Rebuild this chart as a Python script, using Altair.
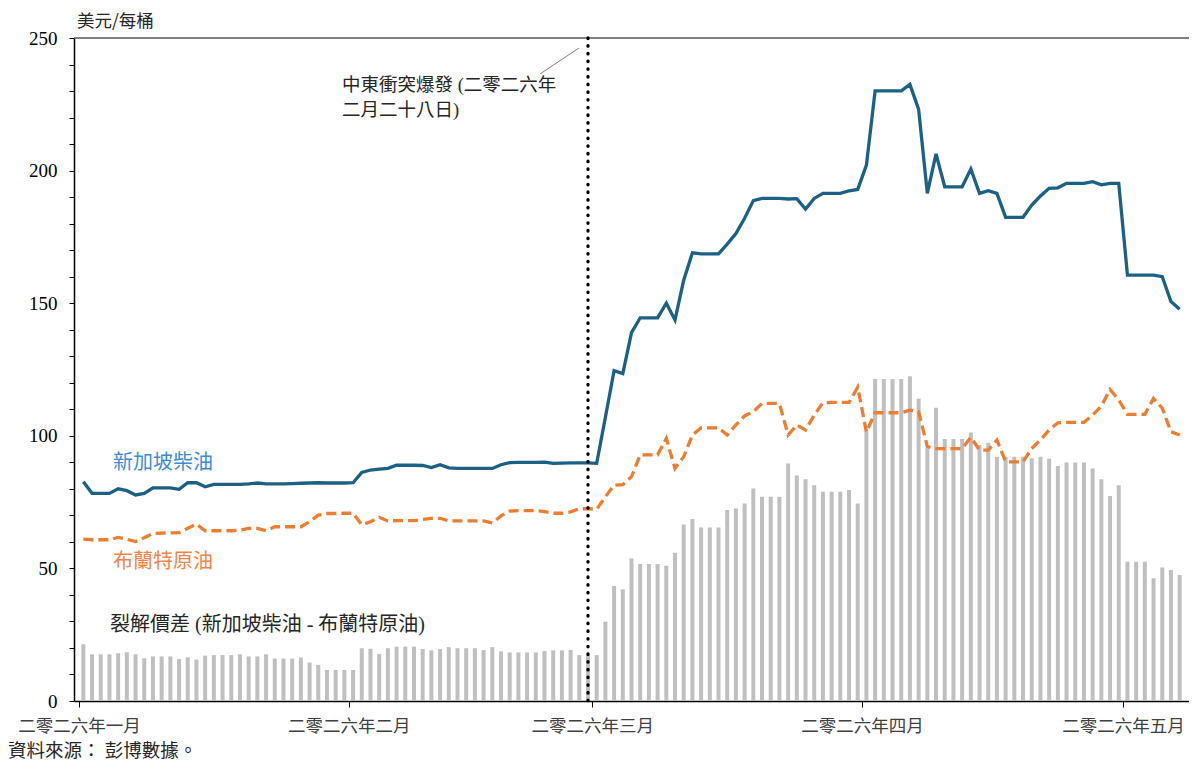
import altair as alt
import pandas as pd

# ---------------- data ----------------
dates = pd.date_range("2026-01-01 12:00", periods=127, freq="D")

diesel = [
    82.7, 78.3, 78.3, 78.3, 80.0, 79.3, 77.7, 78.3, 80.4, 80.4,
    80.4, 79.8, 82.3, 82.3, 80.8, 81.7, 81.7, 81.7, 81.7, 81.9,
    82.2, 81.9, 81.9, 81.9, 82.0, 82.1, 82.2, 82.3, 82.2, 82.2,
    82.2, 82.3, 86.2, 87.1, 87.4, 87.7, 88.9, 88.9, 88.9, 88.8,
    88.0, 89.1, 87.9, 87.7, 87.7, 87.7, 87.7, 87.7, 89.1, 89.9,
    90.0, 90.0, 90.0, 90.1, 89.6, 89.7, 89.8, 89.8, 89.8, 89.6,
    107.0, 124.6, 123.5, 138.9, 144.5, 144.5, 144.5, 150.0, 143.7, 158.7,
    169.0, 168.6, 168.6, 168.6, 172.3, 176.3, 182.0, 188.7, 189.5, 189.5,
    189.5, 189.3, 189.4, 185.5, 189.5, 191.4, 191.4, 191.4, 192.4, 192.9,
    202.1, 230.1, 230.1, 230.1, 230.1, 232.5, 223.1, 191.4, 206.3, 193.9,
    193.9, 193.9, 200.6, 191.4, 192.4, 191.4, 182.4, 182.4, 182.4, 187.0,
    190.4, 193.3, 193.5, 195.2, 195.2, 195.2, 195.8, 194.6, 195.2, 195.2,
    160.6, 160.6, 160.6, 160.6, 160.0, 150.6, 147.7,
]

brent = [
    61.0, 60.8, 60.8, 60.8, 61.7, 61.0, 60.1, 61.6, 63.2, 63.3,
    63.4, 63.5, 65.1, 66.7, 64.2, 64.2, 64.2, 64.2, 64.4, 65.1,
    65.1, 64.2, 65.7, 65.7, 65.7, 65.7, 67.6, 70.1, 70.7, 70.7,
    70.8, 70.8, 66.4, 67.6, 69.3, 67.9, 68.0, 68.0, 68.0, 68.5,
    68.9, 68.9, 67.9, 67.9, 67.9, 67.9, 67.9, 67.2, 69.8, 71.6,
    71.8, 71.8, 71.8, 71.4, 70.8, 70.8, 71.3, 72.5, 72.5, 72.3,
    77.0, 81.4, 81.6, 84.6, 92.8, 92.8, 92.8, 99.0, 87.7, 92.1,
    100.3, 103.0, 103.0, 103.0, 100.3, 104.1, 107.5, 109.1, 112.2, 112.2,
    112.2, 100.3, 104.1, 102.2, 107.8, 112.5, 112.6, 112.6, 112.6, 118.3,
    101.4, 108.7, 108.7, 108.7, 108.7, 109.7, 109.1, 95.9, 95.2, 95.2,
    95.2, 95.2, 99.4, 94.6, 94.6, 98.4, 90.2, 90.2, 90.2, 95.2,
    98.4, 102.2, 104.9, 105.1, 105.1, 105.1, 107.8, 111.2, 117.5, 113.5,
    108.1, 108.1, 108.1, 114.1, 110.4, 101.5, 100.3,
]

spread = [
    21.4, 17.6, 17.6, 17.6, 18.0, 18.4, 17.6, 16.1, 16.8, 16.8,
    16.8, 15.8, 16.5, 15.6, 17.1, 17.3, 17.3, 17.3, 17.6, 16.8,
    16.8, 17.6, 16.0, 16.0, 16.0, 16.4, 14.5, 13.6, 11.7, 11.7,
    11.7, 11.7, 19.9, 19.7, 17.7, 19.9, 20.5, 20.5, 20.5, 19.6,
    19.1, 19.6, 20.3, 19.9, 19.9, 19.9, 19.2, 20.3, 18.7, 18.3,
    18.3, 18.3, 18.3, 18.8, 19.1, 19.1, 19.2, 17.3, 17.3, 17.3,
    29.9, 43.4, 42.1, 53.7, 51.7, 51.7, 51.7, 51.0, 55.9, 66.6,
    68.6, 65.4, 65.4, 65.4, 72.0, 72.6, 74.5, 80.1, 77.0, 77.0,
    77.0, 89.6, 85.0, 83.6, 81.4, 78.9, 78.9, 78.9, 79.6, 74.5,
    101.6, 121.4, 121.4, 121.4, 121.4, 122.5, 114.0, 95.3, 110.6, 98.8,
    98.8, 98.8, 101.2, 96.5, 97.4, 92.1, 92.1, 92.1, 92.1, 91.5,
    92.1, 91.3, 88.6, 89.9, 89.9, 89.9, 87.7, 83.6, 77.3, 81.4,
    52.5, 52.5, 52.5, 46.3, 50.3, 49.4, 47.5,
]

month_labels = ["二零二六年一月", "二零二六年二月", "二零二六年三月", "二零二六年四月", "二零二六年五月"]
event_date = ["2026-02-28 12:00"]
y_ticks = list(range(0, 251, 10))

label_diesel = "新加坡柴油"
label_brent = "布蘭特原油"
label_spread = "裂解價差 (新加坡柴油 - 布蘭特原油)"
label_unit = "美元/每桶"
label_event = "中東衝突爆發 (二零二六年\n二月二十八日)"
label_source = "資料來源： 彭博數據。"

# ---------------- styling ----------------
CJK = "Noto Sans CJK TC"
MIX = "Liberation Serif, Noto Sans CJK TC"
NUM = "Liberation Serif"
C_DIESEL = "#1C6185"
C_DIESEL_TXT = "#3A8DD3"
C_BRENT = "#ED7D31"
C_BRENT_TXT = "#F0854A"
C_BAR = "#BFBFBF"

df = pd.DataFrame({"date": dates, "diesel": diesel, "brent": brent, "spread": spread})
ev = pd.DataFrame({"date": pd.to_datetime(event_date)})
top = pd.DataFrame({"v": [250]})
one = pd.DataFrame({"a": [0]})

label_expr = "[" + ",".join(f"'{m}'" for m in month_labels) + "][month(datum.value)]"

xscale = alt.Scale(domain=[alt.DateTime(year=2026, month=1, date=1),
                           alt.DateTime(year=2026, month=5, date=8)])
xaxis = alt.Axis(values=[alt.DateTime(year=2026, month=m, date=1) for m in range(1, 6)],
                 labelExpr=label_expr, title=None, grid=False, tickSize=6,
                 labelFont=CJK, labelFontSize=17.5, labelColor="#404040",
                 labelPadding=10, labelAlign="center", labelBaseline="top",
                 labelFlush=False,
                 domainColor="black", domainWidth=1.5, tickColor="black", tickWidth=1)
yscale = alt.Scale(domain=[0, 250], nice=False)
yaxis = alt.Axis(values=y_ticks, labelExpr="datum.value % 50 == 0 ? datum.value : ''",
                 title=None, grid=False, tickSize=5, labelFont=NUM, labelFontSize=19,
                 labelColor="black", labelPadding=12, domainColor="black",
                 domainWidth=1.5, tickColor="black", tickWidth=1)


def X(field):
    return alt.X(field, type="temporal", scale=xscale, axis=xaxis)


def Y(field):
    return alt.Y(field, type="quantitative", scale=yscale, axis=yaxis)


top_rule = alt.Chart(top).mark_rule(color="#595959", strokeWidth=1.5).encode(y=Y("v"))
bars = alt.Chart(df).mark_bar(size=4, color=C_BAR).encode(x=X("date"), y=Y("spread"))
brent_line = alt.Chart(df).mark_line(color=C_BRENT, strokeWidth=3.3, strokeDash=[10, 5]).encode(
    x=X("date"), y=Y("brent"))
diesel_line = alt.Chart(df).mark_line(color=C_DIESEL, strokeWidth=3.3).encode(
    x=X("date"), y=Y("diesel"))
event_rule = alt.Chart(ev).mark_rule(color="black", strokeWidth=3.3, strokeDash=[0.5, 7.2],
                                     strokeCap="round").encode(x=X("date"))


def txt(text, x, y, size, color, font=CJK, align="left", baseline="middle", **kw):
    return alt.Chart(one).mark_text(text=text, align=align, baseline=baseline, font=font,
                                    fontSize=size, color=color, **kw).encode(
        x=alt.value(x), y=alt.value(y))


t_diesel = txt(label_diesel, 39, 425, 20, C_DIESEL_TXT)
t_brent = txt(label_brent, 39, 524, 20, C_BRENT_TXT)
t_spread = txt(label_spread, 36, 587, 20, "#262626", font=MIX)
t_unit = txt(label_unit, 3, -16, 17.5, "#262626")
t_event = txt(label_event, 268, 38, 18.5, "#262626", font=MIX, baseline="top",
              lineBreak="\n", lineHeight=25)
t_source = txt(label_source, -66, 713, 18.5, "#262626")

leader = alt.Chart(one).mark_rule(color="#808080", strokeWidth=1).encode(
    x=alt.value(466), y=alt.value(36), x2=alt.value(505), y2=alt.value(10))

chart = alt.layer(
    top_rule, bars, brent_line, diesel_line, event_rule,
    t_diesel, t_brent, t_spread, t_unit, t_event, t_source, leader,
).properties(
    width=1115, height=663, autosize="none",
    padding={"left": 66, "top": 30, "right": 0, "bottom": 60},
).configure_view(strokeWidth=0)

chart.save("out.html", embed_options={"renderer": "svg", "actions": False})
